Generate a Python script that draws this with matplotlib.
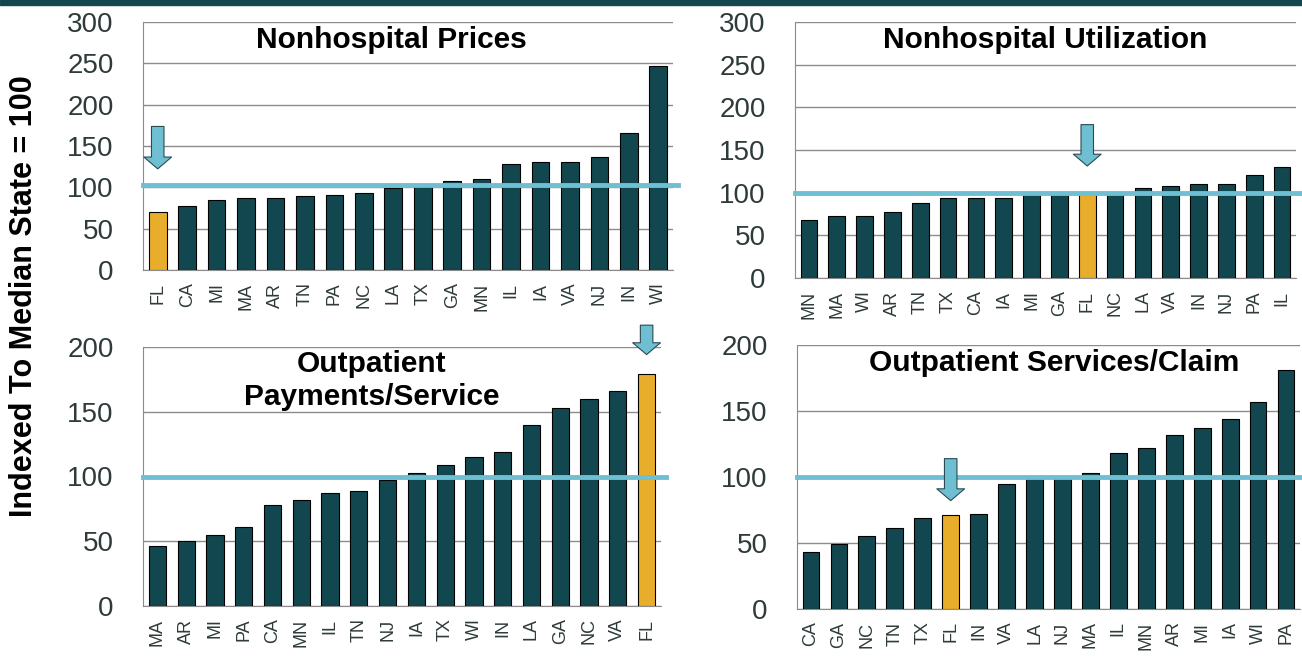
import matplotlib
matplotlib.use("Agg")
import matplotlib.pyplot as plt
from matplotlib.patches import Rectangle

# ==========================================
# Data
# ==========================================

np_price_states = ["FL", "CA", "MI", "MA", "AR", "TN", "PA", "NC", "LA",
                   "TX", "GA", "MN", "IL", "IA", "VA", "NJ", "IN", "WI"]
np_price_vals = [70, 78, 85, 87, 87, 89, 91, 93, 99,
                 100, 108, 110, 128, 131, 131, 137, 166, 247]

np_util_states = ["MN", "MA", "WI", "AR", "TN", "TX", "CA", "IA", "MI",
                  "GA", "FL", "NC", "LA", "VA", "IN", "NJ", "PA", "IL"]
np_util_vals = [68, 73, 73, 77, 88, 94, 94, 94, 99,
                100, 100, 100, 106, 108, 110, 110, 121, 130]

op_pay_states = ["MA", "AR", "MI", "PA", "CA", "MN", "IL", "TN", "NJ",
                 "IA", "TX", "WI", "IN", "LA", "GA", "NC", "VA", "FL"]
op_pay_vals = [46, 50, 55, 61, 78, 82, 87, 89, 97,
               103, 109, 115, 119, 140, 153, 160, 166, 179]

op_svc_states = ["CA", "GA", "NC", "TN", "TX", "FL", "IN", "VA", "LA",
                 "NJ", "MA", "IL", "MN", "AR", "MI", "IA", "WI", "PA"]
op_svc_vals = [43, 49, 55, 61, 69, 71, 72, 95, 99,
               100, 103, 118, 122, 132, 137, 144, 157, 181]

titles = [["Nonhospital Prices"], ["Nonhospital Utilization"],
          ["Outpatient", "Payments/Service"], ["Outpatient Services/Claim"]]
median_line = [103, 100, 100, 100]
highlight = "FL"

# ==========================================
# Style
# ==========================================

W, H = 1302, 656
DARK = "#13474f"
GOLD = "#e8ad2b"
BLUE = "#6fbfd3"
TXT = "#2e3b3a"

plt.rcParams["font.family"] = ["Liberation Sans", "DejaVu Sans"]

fig = plt.figure(figsize=(W / 100, H / 100), dpi=100)

# top band
fig.patches.append(Rectangle((0, 1 - 5 / H), 1, 5 / H, transform=fig.transFigure,
                             color=DARK, zorder=0))


def px_axes(left, right, top, bottom):
    return fig.add_axes([left / W, 1 - bottom / H, (right - left) / W, (bottom - top) / H])


# axes box, states, values, y max, arrow (top, tip), title centre x / first baseline y (px)
panels = [
    (px_axes(143, 673, 22, 270), np_price_states, np_price_vals, 300, (177, 119), (391, 48)),
    (px_axes(795, 1296, 22, 278), np_util_states, np_util_vals, 300, (183, 128), (1045, 48)),
    (px_axes(143, 661, 347, 606), op_pay_states, op_pay_vals, 200, (219, 192), (372, 372)),
    (px_axes(797, 1300, 345, 609), op_svc_states, op_svc_vals, 200, (116, 80), (1054, 371)),
]

for i, (ax, states, vals, ymax, arrow, tpos) in enumerate(panels):
    x = list(range(len(states)))
    colors = [GOLD if s == highlight else DARK for s in states]
    ax.bar(x, vals, width=0.6, color=colors, edgecolor="black", linewidth=0.8, zorder=3)

    ax.set_xlim(-0.5, len(states) - 0.5)
    ax.set_ylim(0, ymax)
    ax.set_yticks(range(0, ymax + 1, 50))
    ax.set_xticks(x)
    ax.set_xticklabels(states, rotation=90, fontsize=13, color=TXT)
    ax.tick_params(axis="y", labelsize=20, colors=TXT, length=0, pad=21)
    ax.tick_params(axis="x", length=0, pad=9)
    ax.grid(axis="y", color="#8c8c8c", linewidth=1, zorder=0)
    for s in ["top", "right"]:
        ax.spines[s].set_visible(False)
    ax.spines["left"].set_color("#8c8c8c")
    ax.spines["bottom"].set_color("#8c8c8c")

    # median reference line
    ax.axhline(median_line[i], xmin=0, xmax=1.01, color=BLUE, linewidth=3.5,
               zorder=4, clip_on=False)

    # arrow over the highlighted state
    fx = states.index(highlight)
    ax.annotate("", xy=(fx, arrow[1]), xytext=(fx, arrow[0]),
                arrowprops=dict(arrowstyle="simple,head_width=2.0,head_length=0.85,tail_width=0.9",
                                fc=BLUE, ec="#2b4a52", lw=0.8),
                annotation_clip=False, zorder=6)

    # panel title
    for j, line in enumerate(titles[i]):
        fig.text(tpos[0] / W, 1 - (tpos[1] + 33 * j) / H, line, ha="center", va="baseline",
                 fontsize=21.5, fontweight="bold", color="black")

fig.text(24 / W, 1 - 296 / H, "Indexed To Median State = 100", rotation=90,
         ha="center", va="center", fontsize=22, fontweight="bold", color="black")

fig.savefig("out.png", dpi=100)
